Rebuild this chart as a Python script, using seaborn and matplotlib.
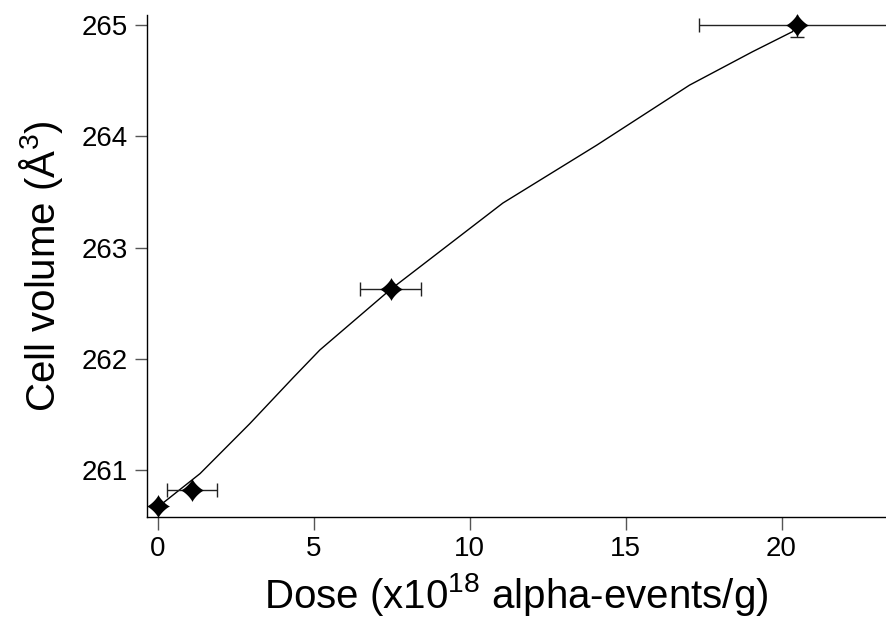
import numpy as np
import pandas as pd
import matplotlib
matplotlib.use("Agg")
import matplotlib.pyplot as plt
import seaborn as sns

# Measured data points
dose = [0.0, 1.09, 7.47, 20.48]
volume = [260.68, 260.82, 262.63, 265.00]
dose_err = [0.0, 0.79, 0.98, 3.14]
volume_err = [0.0, 0.0, 0.0, 0.11]

# Fit curve
fit_dose = [0.0, 1.35, 2.95, 4.33, 5.19, 7.44, 11.06, 14.07, 17.05, 19.07, 20.35, 20.48]
fit_volume = [260.67, 260.97, 261.42, 261.83, 262.08, 262.62, 263.40, 263.92, 264.46, 264.76, 264.94, 265.00]

x_ticks = [0, 5, 10, 15, 20]
y_ticks = [261, 262, 263, 264, 265]

sns.set_style("ticks")
plt.rcParams['font.family'] = ['Liberation Sans', 'DejaVu Sans']
plt.rcParams['mathtext.fontset'] = 'custom'
plt.rcParams['mathtext.rm'] = 'Liberation Sans'
plt.rcParams['text.color'] = 'black'
plt.rcParams['axes.labelcolor'] = 'black'

fig = plt.figure(figsize=(8.86, 6.24), dpi=100)
ax = fig.add_axes([0.166, 0.1715, 0.834, 0.8045])

pts = pd.DataFrame({"dose": dose, "volume": volume})
fit = pd.DataFrame({"dose": fit_dose, "volume": fit_volume})

sns.lineplot(data=fit, x="dose", y="volume", ax=ax, color="black", lw=1.0,
             sort=False, estimator=None)

ax.errorbar(dose, volume, xerr=dose_err, yerr=volume_err, fmt="none",
            ecolor="#222222", elinewidth=1.0, capsize=5, capthick=1.0)

# four-pointed star marker with concave sides
t = np.linspace(0, 2 * np.pi, 161)
p = 2.5
mx = np.sign(np.cos(t)) * np.abs(np.cos(t)) ** p
my = np.sign(np.sin(t)) * np.abs(np.sin(t)) ** p
star = list(zip(mx, my))

sns.scatterplot(data=pts, x="dose", y="volume", ax=ax, marker=star, s=280,
                color="black", edgecolor="black", linewidth=0, zorder=5, clip_on=False)

ax.set_xlim(-0.35, 23.35)
ax.set_ylim(260.58, 265.09)
ax.set_xticks(x_ticks)
ax.set_yticks(y_ticks)
ax.tick_params(axis="both", direction="out", length=9, width=1, color="#555555",
               labelsize=20, labelcolor="black", pad=5)
for s in ["top", "right"]:
    ax.spines[s].set_visible(False)
for s in ["left", "bottom"]:
    ax.spines[s].set_linewidth(1.0)
    ax.spines[s].set_color("black")

ax.set_xlabel(r"Dose (x10$^{18}$ alpha-events/g)", fontsize=29, labelpad=6)
ax.set_ylabel(r"Cell volume ($\mathrm{\AA}^{3}$)", fontsize=29, labelpad=12)

fig.savefig("out.png", dpi=100)
